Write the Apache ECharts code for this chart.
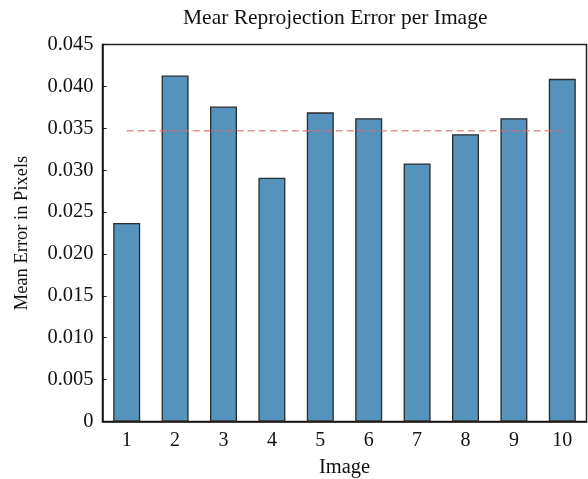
<!DOCTYPE html>
<html>
<head>
<meta charset="utf-8">
<script src="https://cdn.jsdelivr.net/npm/echarts@6/dist/echarts.min.js"></script>
<style>html,body{margin:0;padding:0;background:#fff}#c{width:588px;height:479px}</style>
</head>
<body>
<div id="c"></div>
<script>
const categories = ['1','2','3','4','5','6','7','8','9','10'];
const meanErrors = [0.0237, 0.0413, 0.0376, 0.0291, 0.0369, 0.0362, 0.0308, 0.0343, 0.0362, 0.0409];
const overallMean = 0.0347;
const yTicks = {min: 0, max: 0.045, interval: 0.005};

const font = 'Liberation Serif, Times New Roman, serif';
const chart = echarts.init(document.getElementById('c'), null, {renderer: 'canvas'});
chart.setOption({
  animation: false,
  backgroundColor: '#fff',
  title: {
    text: 'Mear Reprojection Error per Image',
    left: 178, top: 2,
    textStyle: {fontFamily: font, fontWeight: 'normal', fontSize: 21.5, color: '#111'}
  },
  grid: {left: 102.5, right: 1.5, top: 44.5, bottom: 57.5, show: true, borderColor: '#222', borderWidth: 1.5,
    backgroundColor: 'transparent', containLabel: false, outerBoundsMode: 'none'},
  xAxis: {
    type: 'category', data: categories, boundaryGap: true,
    name: 'Image', nameLocation: 'middle', nameGap: 36,
    nameTextStyle: {fontFamily: font, fontSize: 20.5, color: '#111'},
    axisLine: {lineStyle: {color: '#111', width: 1.5}},
    axisTick: {show: false},
    axisLabel: {fontFamily: font, fontSize: 20, color: '#111', margin: 9}
  },
  yAxis: {
    type: 'value', min: yTicks.min, max: yTicks.max, interval: yTicks.interval,
    name: 'Mean Error in Pixels', nameLocation: 'middle', nameGap: 71,
    nameTextStyle: {fontFamily: font, fontSize: 18.5, color: '#111'},
    axisLine: {show: true, lineStyle: {color: '#111', width: 1.5}},
    axisTick: {show: true, inside: true, length: 4, lineStyle: {color: '#111'}},
    splitLine: {show: false},
    axisLabel: {fontFamily: font, fontSize: 20.5, color: '#111', margin: 9,
      formatter: v => v === 0 ? '0' : v.toFixed(3)}
  },
  series: [
    {
      type: 'bar', data: meanErrors, barWidth: 27,
      itemStyle: {color: '#5593bd', borderColor: '#2b2b2b', borderWidth: 1.3}
    },
    {
      type: 'line', data: meanErrors.map(() => overallMean), symbol: 'none', z: 5,
      lineStyle: {color: 'rgba(222,110,110,0.75)', width: 1.6, type: [7, 4]}
    }
  ]
});
</script>
</body>
</html>
